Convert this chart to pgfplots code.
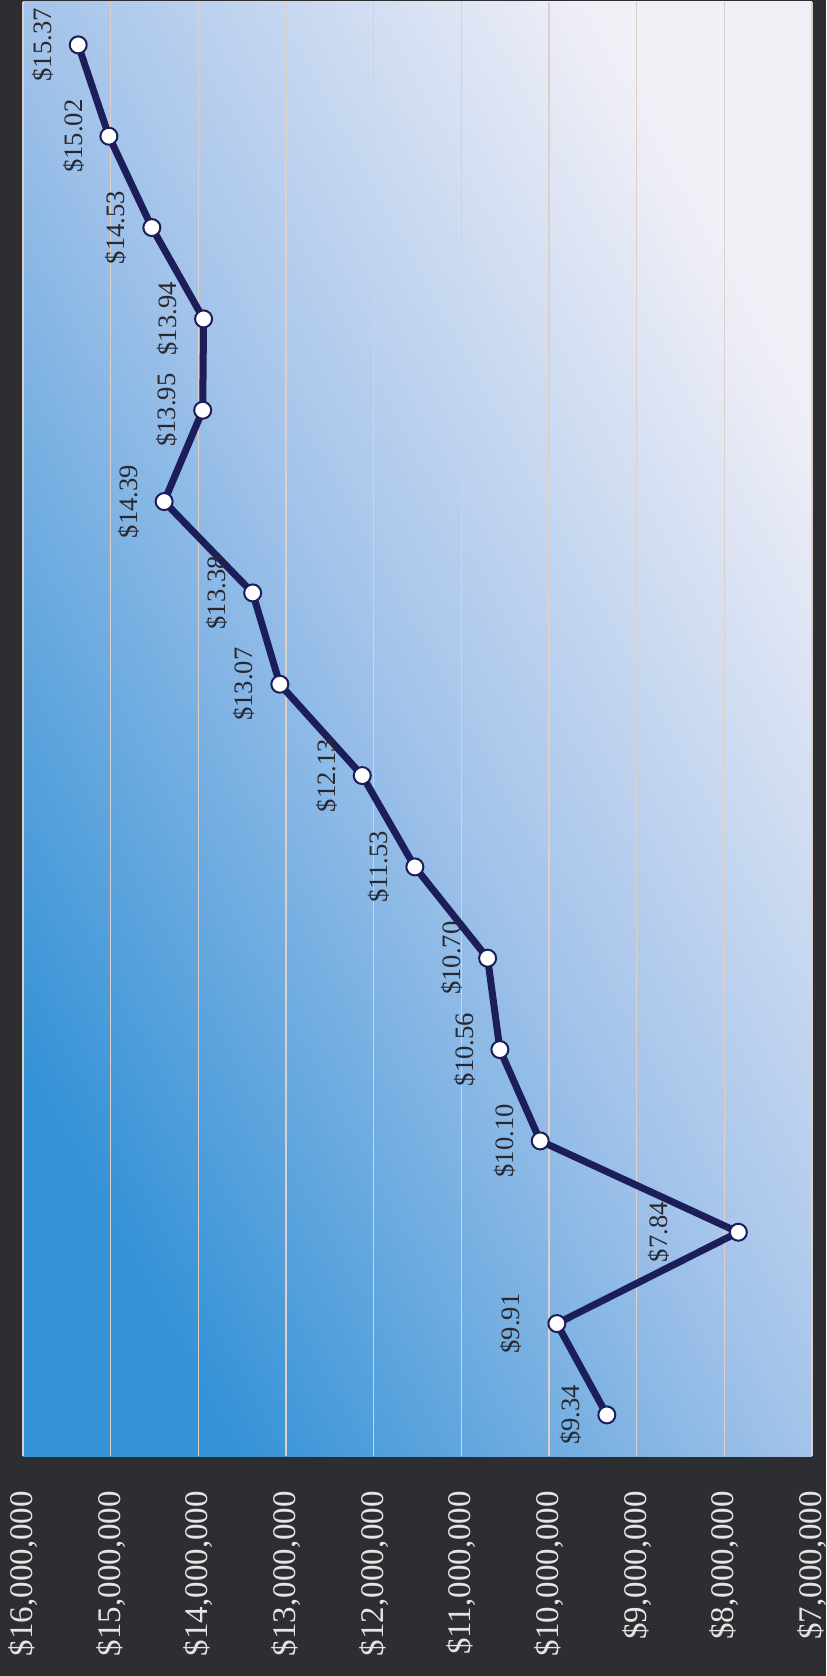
\documentclass[border=0pt]{standalone}
\usepackage{pgfplots}
\pgfplotsset{compat=1.18}
\usepackage{pgfplotstable}
\usepackage{fontspec}
\setmainfont{Liberation Serif}
\definecolor{bgdark}{RGB}{44,46,49}
\definecolor{blueA}{RGB}{52,146,214}
\definecolor{midC}{RGB}{163,195,234}
\definecolor{paleB}{RGB}{242,240,247}
\definecolor{navy}{RGB}{27,30,90}
\definecolor{gridc}{RGB}{222,208,200}
\definecolor{ticktext}{RGB}{228,228,228}
\definecolor{lbl}{RGB}{40,40,48}

\pgfplotstableread{
idx val dx
1 9.34 17.75
2 9.91 23
3 7.84 39.5
4 10.10 17.75
5 10.56 17.75
6 10.70 17.75
7 11.53 17.75
8 12.13 17.75
9 13.07 17.75
10 13.38 17.75
11 14.39 17.75
12 13.95 17.75
13 13.94 17.75
14 14.53 17.75
15 15.02 17.75
16 15.37 17.75
}\data

\begin{document}
\begin{tikzpicture}
\path[use as bounding box, clip] (-11.5pt,-110pt) rectangle (401.5pt,728pt);
\fill[bgdark] (-11.5pt,-110pt) rectangle (401.5pt,728pt);
\begin{axis}[
  at={(0pt,0pt)}, anchor=south west,
  scale only axis, width=394.5pt, height=727pt,
  xmin=7, xmax=16, x dir=reverse,
  ymin=0.55, ymax=16.47,
  xtick={7,8,9,10,11,12,13,14,15,16},
  xticklabels={{\$7,000,000},{\$8,000,000},{\$9,000,000},{\$10,000,000},{\$11,000,000},{\$12,000,000},{\$13,000,000},{\$14,000,000},{\$15,000,000},{\$16,000,000}},
  ytick=\empty,
  major tick length=0pt,
  axis line style={draw=none},
  xmajorgrids, grid style={gridc, line width=0.8pt},
  axis background/.style={shade, bottom color=blueA, top color=paleB, middle color=midC, shading angle=-61.5},
  xticklabel style={rotate=90, anchor=east, font=\fontsize{16.5}{18}\selectfont, text=ticktext},
  xticklabel shift=14pt,
  clip=false,
]
\addplot[navy, line width=3.5pt, mark=*, mark size=4.25pt,
  mark options={fill=white, draw=navy, line width=1pt},
  nodes near coords={\$\pgfmathprintnumber[fixed,fixed zerofill,precision=2,assume math mode=true]{\pgfplotspointmeta}},
  point meta=x,
  visualization depends on={\thisrow{dx} \as \dx},
  every node near coord/.append style={font=\fontsize{13.3}{15}\selectfont, text=lbl, anchor=center, xshift=-\dx pt, rotate=90},
] table[x=val, y=idx] {\data};
\end{axis}
\end{tikzpicture}
\end{document}
